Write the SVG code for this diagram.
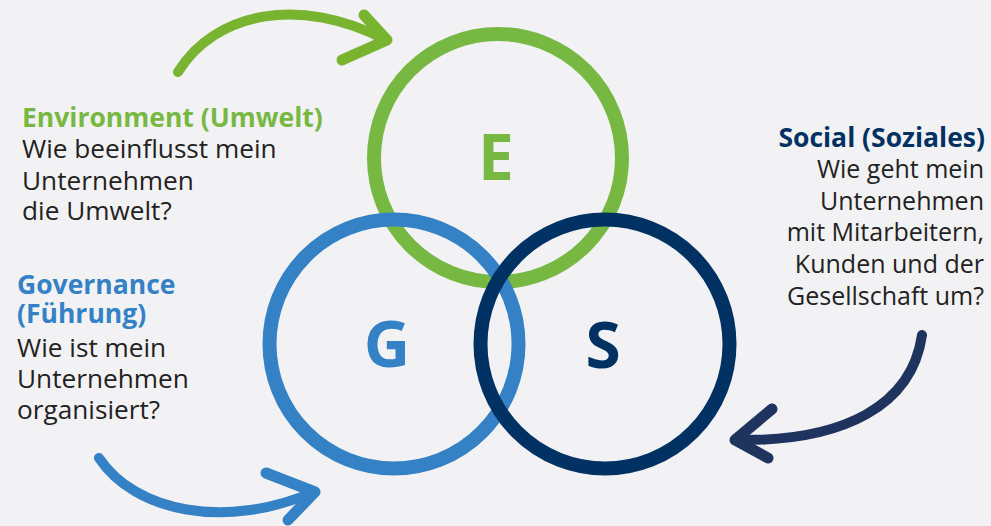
<svg xmlns="http://www.w3.org/2000/svg" width="991" height="526" viewBox="0 0 991 526">
<style>
.ring{fill:none;stroke-width:14}
.letter{font-family:"Open Sans","DejaVu Sans",sans-serif;font-weight:bold;font-size:64px;text-anchor:middle}
.title{font-family:"Open Sans","DejaVu Sans",sans-serif;font-weight:bold;font-size:26.5px}
.body{font-family:"Open Sans","DejaVu Sans",sans-serif;font-size:26.2px;fill:#222}
.body-s{font-size:25px}
.curve{fill:none;stroke-width:10;stroke-linecap:round}
.head{fill:none;stroke-width:11;stroke-linecap:round;stroke-linejoin:round}
</style>
<rect width="991" height="526" fill="#f2f2f5"/>
<g id="connectors">
  <g id="arrow-green">
    <path class="curve" stroke="#78b42f" d="M178,72 C215,12 300,-5 386,40"/>
    <path class="head" stroke="#78b42f" d="M364,15 L387,40 L342,60"/>
  </g>
  <g id="arrow-blue">
    <path class="curve" stroke="#3481c5" d="M99,458 C135,512 225,530 314,492"/>
    <path class="head" stroke="#3481c5" d="M266,473 L315,492 L288,520"/>
  </g>
  <g id="arrow-navy">
    <path class="curve" stroke="#1f335f" d="M922,335 C912,405 845,442 735,440"/>
    <path class="head" stroke="#1f335f" d="M772,409 L735,440 L768,458"/>
  </g>
</g>
<g id="node-e">
  <circle class="ring" cx="498" cy="158" r="124" stroke="#77b843"/>
  <text class="letter" x="496" y="180" fill="#77b843">E</text>
</g>
<g id="node-g">
  <circle class="ring" cx="394" cy="344" r="124.5" stroke="#3481c5"/>
  <text class="letter" x="387" y="367" fill="#3481c5">G</text>
</g>
<g id="node-s">
  <circle class="ring" cx="605" cy="344" r="124.5" stroke="#003163"/>
  <text class="letter" x="603" y="368" fill="#003163">S</text>
</g>
<g id="label-environment">
  <text class="title" x="22" y="127" fill="#77b843">Environment (Umwelt)</text>
  <text class="body" x="22" y="158">Wie beeinflusst mein</text>
  <text class="body" x="22" y="190">Unternehmen</text>
  <text class="body" x="22" y="220">die Umwelt?</text>
</g>
<g id="label-governance">
  <text class="title" x="17" y="294" fill="#3481c5">Governance</text>
  <text class="title" x="17" y="323" fill="#3481c5">(Führung)</text>
  <text class="body" x="17" y="357">Wie ist mein</text>
  <text class="body" x="17" y="388">Unternehmen</text>
  <text class="body" x="17" y="419">organisiert?</text>
</g>
<g id="label-social" text-anchor="end">
  <text class="title" x="985" y="147" fill="#003163">Social (Soziales)</text>
  <text class="body body-s" x="984" y="178">Wie geht mein</text>
  <text class="body body-s" x="984" y="210">Unternehmen</text>
  <text class="body body-s" x="984" y="241">mit Mitarbeitern,</text>
  <text class="body body-s" x="984" y="273">Kunden und der</text>
  <text class="body body-s" x="984" y="305">Gesellschaft um?</text>
</g>
</svg>
